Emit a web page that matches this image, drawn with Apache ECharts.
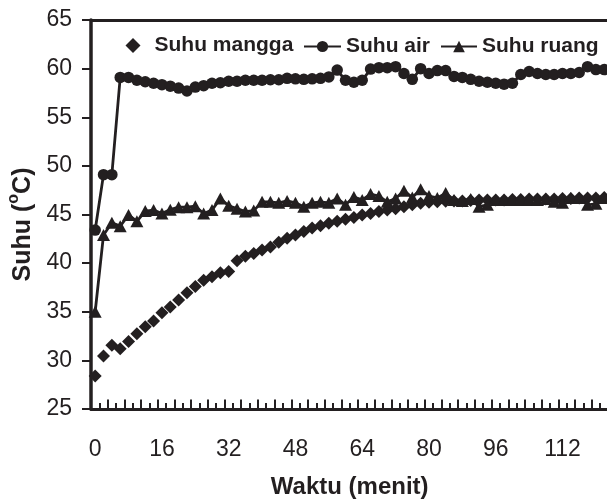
<!DOCTYPE html>
<html>
<head>
<meta charset="utf-8">
<script src="https://cdn.jsdelivr.net/npm/echarts@6/dist/echarts.min.js"></script>
<style>
html,body{margin:0;padding:0;background:#fff;}
#chart{width:607px;height:501px;}
</style>
</head>
<body>
<div id="chart"></div>
<script>
var categories = ['0','2','4','6','8','10','12','14','16','18','20','22','24','26','28','30','32','34','36','38','40','42','44','46','48','50','52','54','56','58','60','62','64','66','68','70','72','74','76','78','80','82','84','86','88','90','92','94','96','98','100','102','104','106','108','110','112','114','116','118','120','122'];

var suhuMangga = [28.4,30.45,31.55,31.2,31.95,32.75,33.45,34.05,34.9,35.5,36.2,36.95,37.6,38.25,38.6,39.0,39.15,40.25,40.7,41.0,41.35,41.65,42.15,42.55,42.9,43.25,43.6,43.85,44.1,44.3,44.5,44.7,44.95,45.1,45.3,45.45,45.6,45.8,46.0,46.15,46.25,46.3,46.35,46.4,46.4,46.45,46.5,46.5,46.5,46.5,46.55,46.55,46.6,46.6,46.6,46.6,46.65,46.65,46.7,46.7,46.7,46.75];

var suhuAir = [43.4,49.1,49.1,59.1,59.1,58.8,58.65,58.5,58.35,58.2,58.0,57.7,58.1,58.25,58.5,58.55,58.7,58.7,58.8,58.8,58.8,58.85,58.85,59.0,58.95,58.9,58.95,59.0,59.15,59.85,58.8,58.6,58.8,59.95,60.1,60.1,60.2,59.5,58.9,60.0,59.5,59.8,59.8,59.2,59.1,58.9,58.7,58.6,58.5,58.4,58.5,59.4,59.7,59.5,59.4,59.4,59.5,59.5,59.6,60.2,59.9,59.9];

var suhuRuang = [35.0,42.9,44.15,43.8,44.95,44.3,45.35,45.45,45.1,45.5,45.75,45.75,45.85,45.1,45.45,46.65,45.9,45.6,45.3,45.4,46.3,46.3,46.2,46.4,46.2,45.8,46.2,46.3,46.2,46.65,46.0,46.8,46.5,47.1,46.9,46.3,46.65,47.45,46.75,47.6,46.9,46.7,47.2,46.5,46.4,46.6,45.8,46.0,46.5,46.5,46.5,46.5,46.5,46.5,46.6,46.3,46.2,46.7,46.7,46.0,46.1,46.7];

var yTicks = {min: 25, max: 65, interval: 5};

var ink = '#231f20';
var font = 'Liberation Sans, Arial, sans-serif';

var chart = echarts.init(document.getElementById('chart'), null, {renderer: 'canvas'});

var legendText = {color: ink, fontFamily: font, fontWeight: 'bold', fontSize: 21};

chart.setOption({
  animation: false,
  backgroundColor: '#ffffff',
  grid: {left: 91, top: 20, width: 517.4, height: 389, containLabel: false, outerBoundsMode: 'none'},
  legend: [
    {data: ['Suhu mangga'], icon: 'diamond', left: 125.5, top: 35, itemWidth: 15, itemHeight: 15, itemGap: 0, padding: 0,
     textStyle: Object.assign({padding: [0, 0, 0, 9]}, legendText)},
    {data: ['Suhu air'], left: 303, top: 36, itemWidth: 37, itemHeight: 14, itemGap: 0, padding: 0, textStyle: legendText},
    {data: ['Suhu ruang'], left: 440, top: 36, itemWidth: 36, itemHeight: 14.5, itemGap: 0, padding: 0, textStyle: legendText}
  ],
  xAxis: [
    {
      type: 'category', data: categories, position: 'bottom', boundaryGap: true,
      name: 'Waktu (menit)', nameLocation: 'middle', nameGap: 66,
      nameTextStyle: {color: ink, fontFamily: font, fontWeight: 'bold', fontSize: 24},
      axisLine: {show: true, lineStyle: {color: ink, width: 3}},
      axisTick: {show: true, inside: true, interval: 0, length: 6, lineStyle: {color: ink, width: 2}},
      axisLabel: {interval: 7, margin: 29, color: ink, fontFamily: font, fontSize: 23},
      splitLine: {show: false}
    },
    {
      type: 'category', data: categories, position: 'bottom', boundaryGap: true,
      axisLine: {show: false},
      axisTick: {show: true, inside: true, interval: 1, length: 9.5, lineStyle: {color: ink, width: 2}},
      axisLabel: {show: false},
      splitLine: {show: false}
    },
    {
      type: 'category', data: categories, position: 'top', boundaryGap: true,
      axisLine: {show: true, lineStyle: {color: ink, width: 3}},
      axisTick: {show: false},
      axisLabel: {show: false},
      splitLine: {show: false}
    }
  ],
  yAxis: {
    type: 'value', min: yTicks.min, max: yTicks.max, interval: yTicks.interval,
    name: '{a|Suhu (}{s|o}{a|C)}', nameLocation: 'middle', nameGap: 53, nameRotate: 90,
    nameTextStyle: {
      color: ink, fontFamily: font, fontWeight: 'bold', padding: [0, 20, 0, 0],
      rich: {
        a: {color: ink, fontFamily: font, fontWeight: 'bold', fontSize: 25, lineHeight: 30, verticalAlign: 'bottom'},
        s: {color: ink, fontFamily: font, fontWeight: 'bold', fontSize: 16, lineHeight: 30, verticalAlign: 'top', padding: [0, 0, 6, 0]}
      }
    },
    axisLine: {show: true, lineStyle: {color: ink, width: 3.5}},
    axisTick: {show: true, inside: false, length: 9, lineStyle: {color: ink, width: 2}},
    axisLabel: {margin: 19, color: ink, fontFamily: font, fontSize: 23},
    splitLine: {show: false}
  },
  series: [
    {
      name: 'Suhu mangga', type: 'scatter', xAxisIndex: 0, data: suhuMangga,
      symbol: 'diamond', symbolSize: 13,
      itemStyle: {color: ink, opacity: 1}
    },
    {
      name: 'Suhu air', type: 'line', xAxisIndex: 0, data: suhuAir,
      symbol: 'circle', symbolSize: 11.5, showAllSymbol: true,
      lineStyle: {color: ink, width: 2.8},
      itemStyle: {color: ink, borderWidth: 0}
    },
    {
      name: 'Suhu ruang', type: 'line', xAxisIndex: 0, data: suhuRuang,
      symbol: 'triangle', symbolSize: [13, 12], showAllSymbol: true,
      lineStyle: {color: ink, width: 2.8},
      itemStyle: {color: ink, borderWidth: 0}
    }
  ]
});
</script>
</body>
</html>
